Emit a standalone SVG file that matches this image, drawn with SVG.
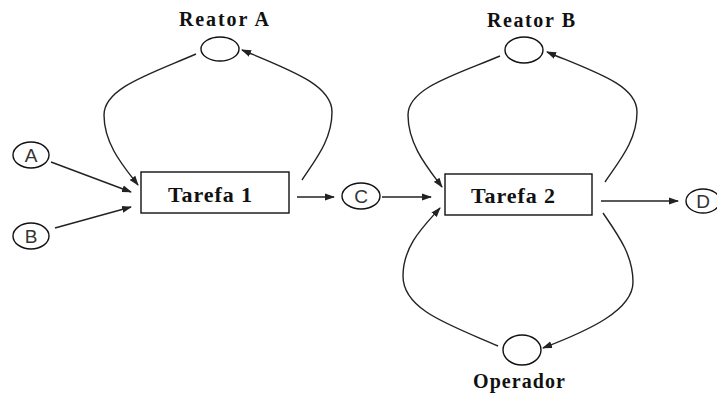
<svg xmlns="http://www.w3.org/2000/svg" width="717" height="396" viewBox="0 0 717 396">
<style>
.bg{fill:#fff}
.nd{fill:#fff;stroke:#111;stroke-width:1.4}
.lbl{font-family:"Liberation Serif",serif;font-weight:bold;fill:#111;text-anchor:middle}
.let{font-family:"Liberation Sans",Arial,sans-serif;font-size:19px;fill:#333;text-anchor:middle}
.cn{fill:none;stroke:#222;stroke-width:1.4;marker-end:url(#ah)}
</style>
<defs>
<marker id="ah" markerUnits="userSpaceOnUse" markerWidth="10" markerHeight="8" refX="9" refY="4" orient="auto">
<path d="M0,0.5 L10,4 L0,7.5 z" fill="#222"/>
</marker>
</defs>
<rect class="bg" width="717" height="396"/>
<g id="connectors">
<path class="cn" d="M 51 162 L 131 192"/>
<path class="cn" d="M 55 228 L 131 207"/>
<path class="cn" d="M 196 54 C 150 74 104 88 104 115 C 104 145 125 168 138 185"/>
<path class="cn" d="M 302 180 C 315 160 332 140 332 112 C 332 85 290 70 242 50"/>
<path class="cn" d="M 297 197 L 334 197"/>
<path class="cn" d="M 382 197 L 431 197"/>
<path class="cn" d="M 500 56 C 455 75 408 88 408 115 C 408 145 428 168 442 187"/>
<path class="cn" d="M 605 182 C 620 160 637 140 637 112 C 637 85 595 72 547 52"/>
<path class="cn" d="M 498 346 C 450 325 403 310 403 276 C 403 245 425 225 440 208"/>
<path class="cn" d="M 603 213 C 618 235 633 255 633 282 C 633 310 590 330 543 348"/>
<path class="cn" d="M 601 201 L 678 201"/>
</g>
<g id="reatorA">
<ellipse class="nd" cx="220" cy="49" rx="19" ry="12"/>
<text class="lbl" x="224" y="26" font-size="20" textLength="90" lengthAdjust="spacing">Reator A</text>
</g>
<g id="reatorB">
<ellipse class="nd" cx="524" cy="50" rx="19" ry="13"/>
<text class="lbl" x="531" y="27" font-size="20" textLength="88" lengthAdjust="spacing">Reator B</text>
</g>
<g id="operador">
<ellipse class="nd" cx="522" cy="350" rx="19" ry="15"/>
<text class="lbl" x="519" y="388" font-size="20" textLength="92" lengthAdjust="spacing">Operador</text>
</g>
<g id="tarefa1">
<rect class="nd" x="141" y="172" width="148" height="41"/>
<text class="lbl" x="210" y="202" font-size="22" textLength="84" lengthAdjust="spacing">Tarefa 1</text>
</g>
<g id="tarefa2">
<rect class="nd" x="445" y="174" width="147" height="41"/>
<text class="lbl" x="513" y="203" font-size="22" textLength="84" lengthAdjust="spacing">Tarefa 2</text>
</g>
<g id="A">
<ellipse class="nd" cx="31" cy="155" rx="18" ry="13"/>
<text class="let" x="31" y="162">A</text>
</g>
<g id="B">
<ellipse class="nd" cx="31" cy="236" rx="18" ry="13"/>
<text class="let" x="31" y="243">B</text>
</g>
<g id="C">
<ellipse class="nd" cx="361" cy="196" rx="19" ry="13"/>
<text class="let" x="361" y="203">C</text>
</g>
<g id="D">
<ellipse class="nd" cx="703" cy="201" rx="17" ry="12"/>
<text class="let" x="703" y="208">D</text>
</g>
</svg>
